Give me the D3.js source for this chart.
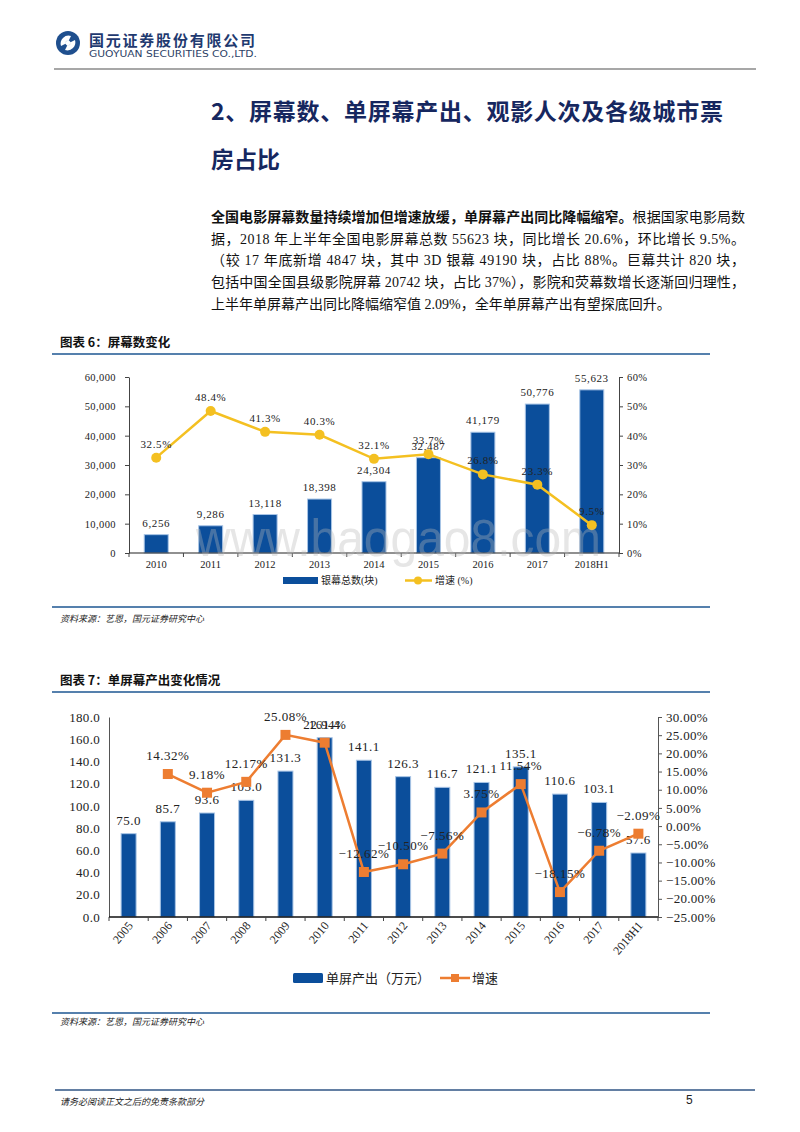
<!DOCTYPE html>
<html>
<head>
<meta charset="utf-8">
<script src="https://cdn.jsdelivr.net/npm/d3@7"></script>
<style>
  body { margin: 0; background: #fff; }
  svg { display: block; }
</style>
</head>
<body>
<div id="page"></div>
<script>
// chart 6 data: screen count
const years1 = ['2010', '2011', '2012', '2013', '2014', '2015', '2016', '2017', '2018H1'];
const screens = [6256, 9286, 13118, 18398, 24304, 32487, 41179, 50776, 55623];
const screenGrowth = [32.5, 48.4, 41.3, 40.3, 32.1, 33.7, 26.8, 23.3, 9.5];
const screenTicks = [0, 10000, 20000, 30000, 40000, 50000, 60000];
const screenPctTicks = [0, 10, 20, 30, 40, 50, 60];

// chart 7 data: output per screen
const years2 = ['2005', '2006', '2007', '2008', '2009', '2010', '2011', '2012', '2013', '2014', '2015', '2016', '2017', '2018H1'];
const output = [75.0, 85.7, 93.6, 105.0, 131.3, 161.4, 141.1, 126.3, 116.7, 121.1, 135.1, 110.6, 103.1, 57.6];
const outputGrowth = [null, 14.32, 9.18, 12.17, 25.08, 22.94, -12.62, -10.50, -7.56, 3.75, 11.54, -18.15, -6.78, -2.09];
const outputTicks = [0, 20, 40, 60, 80, 100, 120, 140, 160, 180];
const outputPctTicks = [-25, -20, -15, -10, -5, 0, 5, 10, 15, 20, 25, 30];

const paragraph = [
  [['全国电影屏幕数量持续增加但增速放缓，单屏幕产出同比降幅缩窄。', true], ['根据国家电影局数', false]],
  [['据，2018 年上半年全国电影屏幕总数 55623 块，同比增长 20.6%，环比增长 9.5%。', false]],
  [['（较 17 年底新增 4847 块，其中 3D 银幕 49190 块，占比 88%。巨幕共计 820 块，', false]],
  [['包括中国全国县级影院屏幕 20742 块，占比 37%），影院和荧幕数增长逐渐回归理性，', false]],
  [['上半年单屏幕产出同比降幅缩窄值 2.09%，全年单屏幕产出有望探底回升。', false]]
];

const W = 800, H = 1132;
const SERIF = '"Liberation Serif", "Noto Sans CJK SC", serif';
const SANS = '"Noto Sans CJK SC", sans-serif';
const NAVY = '#16275f';
const BLUE = '#0b4e9b';
const RULE = '#5580ad';

const svg = d3.select('#page').append('svg')
    .attr('width', W)
    .attr('height', H);

svg.append('rect').attr('width', W).attr('height', H).attr('fill', '#fff');

// header / logo
const logo = svg.append('g').attr('transform', 'translate(68,43)');
logo.append('circle').attr('r', 12).attr('fill', '#1f4f8e');
logo.append('path')
    .attr('d', 'M-7,3 A8,8 0 0,1 3,-7 L1,-3 A4.5,4.5 0 0,0 -3,1 Z M7,-3 A8,8 0 0,1 -3,7 L-1,3 A4.5,4.5 0 0,0 3,-1 Z')
    .attr('fill', '#fff');
logo.append('path').attr('d', 'M0,-3.5 L3.5,0 L0,3.5 L-3.5,0 Z').attr('fill', '#fff');

svg.append('text')
    .attr('x', 89).attr('y', 46)
    .attr('textLength', 166).attr('lengthAdjust', 'spacing')
    .attr('font-family', SANS).attr('font-weight', 'bold').attr('font-size', 15)
    .attr('fill', '#1f3a70')
    .text('国元证券股份有限公司');
svg.append('text')
    .attr('x', 89).attr('y', 57)
    .attr('textLength', 168).attr('lengthAdjust', 'spacingAndGlyphs')
    .attr('font-family', '"DejaVu Sans", sans-serif').attr('font-size', 9.5)
    .attr('fill', '#2d3f66')
    .text('GUOYUAN SECURITIES CO.,LTD.');
svg.append('line')
    .attr('x1', 54).attr('x2', 756).attr('y1', 69).attr('y2', 69)
    .attr('stroke', '#8a8a8a').attr('stroke-width', 1.5);

// section title
svg.append('text')
    .attr('x', 211).attr('y', 120)
    .attr('textLength', 512).attr('lengthAdjust', 'spacing')
    .attr('font-family', SANS).attr('font-weight', 'bold').attr('font-size', 23)
    .attr('fill', NAVY)
    .text('2、屏幕数、单屏幕产出、观影人次及各级城市票');
svg.append('text')
    .attr('x', 211).attr('y', 168)
    .attr('font-family', SANS).attr('font-weight', 'bold').attr('font-size', 23)
    .attr('fill', NAVY)
    .text('房占比');

// paragraph
paragraph.forEach((parts, i) => {
  const t = svg.append('text')
      .attr('x', 211).attr('y', 222 + i * 21.7)
      .attr('font-family', SERIF).attr('font-size', 14)
      .attr('fill', '#111');
  if (i < paragraph.length - 1) {
    t.attr('textLength', 534).attr('lengthAdjust', 'spacing');
  }
  parts.forEach(([s, bold]) => {
    t.append('tspan')
        .attr('font-weight', bold ? 'bold' : 'normal')
        .attr('font-family', bold ? SANS : SERIF)
        .text(s);
  });
});

function caption(y, label) {
  svg.append('text')
      .attr('x', 60).attr('y', y)
      .attr('font-family', SANS).attr('font-weight', 'bold').attr('font-size', 12.5)
      .attr('fill', '#111')
      .text(label);
}
function rule(y) {
  svg.append('line')
      .attr('x1', 52).attr('x2', 710).attr('y1', y).attr('y2', y)
      .attr('stroke', RULE).attr('stroke-width', 2);
}
function source(y) {
  svg.append('text')
      .attr('x', 60).attr('y', y)
      .attr('font-family', SERIF).attr('font-style', 'italic').attr('font-size', 9)
      .attr('fill', '#222')
      .text('资料来源：艺恩，国元证券研究中心');
}

// ---------------- Chart 6 ----------------
caption(347, '图表 6：屏幕数变化');
rule(354);

const x1 = d3.scaleBand().domain(years1).range([129, 619]);
const y1 = d3.scaleLinear().domain([0, 60000]).range([553, 377]);
const y1r = d3.scaleLinear().domain([0, 60]).range([553, 377]);
const c1 = svg.append('g');

const ax1L = c1.append('g')
    .attr('transform', 'translate(129,0)')
    .call(d3.axisLeft(y1).tickValues(screenTicks).tickSize(4).tickSizeOuter(0).tickFormat(d3.format(',')));
const ax1R = c1.append('g')
    .attr('transform', 'translate(619,0)')
    .call(d3.axisRight(y1r).tickValues(screenPctTicks).tickSize(4).tickSizeOuter(0).tickFormat(d => d + '%'));
[ax1L, ax1R].forEach(a => {
  a.selectAll('text').attr('font-family', SERIF).attr('font-size', 10.5).attr('fill', '#222').attr('letter-spacing', 0.4);
  a.selectAll('line, path').attr('stroke', '#444');
});
ax1L.selectAll('text').attr('x', -13);
ax1R.selectAll('text').attr('x', 8);

// bars
const bw1 = 24;
c1.selectAll('rect.bar').data(screens).join('rect')
    .attr('class', 'bar')
    .attr('x', (d, i) => x1(years1[i]) + x1.bandwidth() / 2 - bw1 / 2)
    .attr('y', d => y1(d))
    .attr('width', bw1)
    .attr('height', d => y1(0) - y1(d))
    .attr('fill', BLUE)
    .attr('stroke', '#a9c5e6').attr('stroke-width', 1);

// x axis
c1.append('line').attr('x1', 129).attr('x2', 619).attr('y1', 553).attr('y2', 553)
    .attr('stroke', '#222').attr('stroke-width', 1.2);
c1.selectAll('line.xt').data(years1.concat(['end'])).join('line')
    .attr('class', 'xt')
    .attr('x1', (d, i) => 129 + i * x1.step()).attr('x2', (d, i) => 129 + i * x1.step())
    .attr('y1', 553).attr('y2', 557)
    .attr('stroke', '#444');
c1.selectAll('text.xl').data(years1).join('text')
    .attr('class', 'xl')
    .attr('x', d => x1(d) + x1.bandwidth() / 2)
    .attr('y', 568)
    .attr('text-anchor', 'middle')
    .attr('font-family', SERIF).attr('font-size', 10.5).attr('fill', '#222')
    .text(d => d);

// bar labels
c1.selectAll('text.bl').data(screens).join('text')
    .attr('class', 'bl')
    .attr('x', (d, i) => x1(years1[i]) + x1.bandwidth() / 2)
    .attr('y', d => y1(d) - 8)
    .attr('text-anchor', 'middle')
    .attr('font-family', SERIF).attr('font-size', 11).attr('fill', '#222').attr('letter-spacing', 0.6)
    .text(d => d3.format(',')(d));

// growth line
const line1 = d3.line()
    .x((d, i) => x1(years1[i]) + x1.bandwidth() / 2)
    .y(d => y1r(d));
c1.append('path').datum(screenGrowth)
    .attr('d', line1)
    .attr('fill', 'none').attr('stroke', '#f4c021').attr('stroke-width', 2.5);
c1.selectAll('circle.pt').data(screenGrowth).join('circle')
    .attr('class', 'pt')
    .attr('cx', (d, i) => x1(years1[i]) + x1.bandwidth() / 2)
    .attr('cy', d => y1r(d))
    .attr('r', 5)
    .attr('fill', '#f4c021');
c1.selectAll('text.gl').data(screenGrowth).join('text')
    .attr('class', 'gl')
    .attr('x', (d, i) => x1(years1[i]) + x1.bandwidth() / 2)
    .attr('y', d => y1r(d) - 10)
    .attr('text-anchor', 'middle')
    .attr('font-family', SERIF).attr('font-size', 11).attr('fill', '#222').attr('letter-spacing', 0.6)
    .text(d => d.toFixed(1) + '%');

// legend
c1.append('rect').attr('x', 283).attr('y', 577).attr('width', 35).attr('height', 7).attr('fill', BLUE);
c1.append('text').attr('x', 321).attr('y', 584)
    .attr('font-family', SERIF).attr('font-size', 10).attr('fill', '#222')
    .text('银幕总数(块)');
c1.append('line').attr('x1', 405).attr('x2', 432).attr('y1', 580.5).attr('y2', 580.5)
    .attr('stroke', '#f4c021').attr('stroke-width', 2.5);
c1.append('circle').attr('cx', 418).attr('cy', 580.5).attr('r', 4).attr('fill', '#f4c021');
c1.append('text').attr('x', 435).attr('y', 584)
    .attr('font-family', SERIF).attr('font-size', 10).attr('fill', '#222')
    .text('增速 (%)');

// watermark
svg.append('text')
    .attr('x', 196).attr('y', 556)
    .attr('textLength', 405).attr('lengthAdjust', 'spacingAndGlyphs')
    .attr('font-family', '"Liberation Sans", sans-serif').attr('font-size', 52)
    .attr('fill', '#b8b8b8').attr('opacity', 0.35)
    .text('www.baogao8.com');

rule(607);
source(622);

// ---------------- Chart 7 ----------------
caption(685, '图表 7：单屏幕产出变化情况');
rule(692);

const x2 = d3.scaleBand().domain(years2).range([109, 658]);
const y2 = d3.scaleLinear().domain([0, 180]).range([917, 717]);
const y2r = d3.scaleLinear().domain([-25, 30]).range([917, 717]);
const c2 = svg.append('g');
const fmtPct = d => (d < 0 ? '\u2212' : '') + Math.abs(d).toFixed(2) + '%';

const ax2L = c2.append('g')
    .attr('transform', 'translate(109,0)')
    .call(d3.axisLeft(y2).tickValues(outputTicks).tickSize(0).tickSizeOuter(0).tickFormat(d => d.toFixed(1)));
const ax2R = c2.append('g')
    .attr('transform', 'translate(658,0)')
    .call(d3.axisRight(y2r).tickValues(outputPctTicks).tickSize(4).tickSizeOuter(0).tickFormat(fmtPct));
[ax2L, ax2R].forEach(a => {
  a.selectAll('text').attr('font-family', SERIF).attr('font-size', 13).attr('fill', '#222').attr('letter-spacing', 0.3);
  a.selectAll('line, path').attr('stroke', '#555');
});
ax2L.selectAll('text').attr('x', -9);
ax2R.selectAll('text').attr('x', 8);

const bw2 = 15;
c2.selectAll('rect.bar').data(output).join('rect')
    .attr('class', 'bar')
    .attr('x', (d, i) => x2(years2[i]) + x2.bandwidth() / 2 - bw2 / 2)
    .attr('y', d => y2(d))
    .attr('width', bw2)
    .attr('height', d => y2(0) - y2(d))
    .attr('fill', BLUE)
    .attr('stroke', '#a9c5e6').attr('stroke-width', 1);

c2.append('line').attr('x1', 109).attr('x2', 658).attr('y1', 917).attr('y2', 917)
    .attr('stroke', '#111').attr('stroke-width', 1.5);
c2.selectAll('line.xt').data(years2.concat(['end'])).join('line')
    .attr('class', 'xt')
    .attr('x1', (d, i) => 109 + i * x2.step()).attr('x2', (d, i) => 109 + i * x2.step())
    .attr('y1', 917).attr('y2', 921)
    .attr('stroke', '#444');
c2.selectAll('text.xl').data(years2).join('text')
    .attr('class', 'xl')
    .attr('transform', d => `translate(${x2(d) + x2.bandwidth() / 2 + 5},926) rotate(-50)`)
    .attr('text-anchor', 'end')
    .attr('font-family', SERIF).attr('font-size', 12).attr('fill', '#222')
    .text(d => d);

c2.selectAll('text.bl').data(output).join('text')
    .attr('class', 'bl')
    .attr('x', (d, i) => x2(years2[i]) + x2.bandwidth() / 2)
    .attr('y', d => y2(d) - 9)
    .attr('text-anchor', 'middle')
    .attr('font-family', SERIF).attr('font-size', 13).attr('fill', '#222').attr('letter-spacing', 0.5)
    .text(d => d.toFixed(1));

const ORANGE = '#ed7d31';
const pts2 = outputGrowth.map((v, i) => ({ k: years2[i], v })).filter(d => d.v !== null);
const line2 = d3.line()
    .x(d => x2(d.k) + x2.bandwidth() / 2)
    .y(d => y2r(d.v));
c2.append('path').datum(pts2)
    .attr('d', line2)
    .attr('fill', 'none').attr('stroke', ORANGE).attr('stroke-width', 2.5);
c2.selectAll('rect.pt').data(pts2).join('rect')
    .attr('class', 'pt')
    .attr('x', d => x2(d.k) + x2.bandwidth() / 2 - 5)
    .attr('y', d => y2r(d.v) - 5)
    .attr('width', 10).attr('height', 10)
    .attr('fill', ORANGE);
c2.selectAll('text.gl').data(pts2).join('text')
    .attr('class', 'gl')
    .attr('x', d => x2(d.k) + x2.bandwidth() / 2)
    .attr('y', d => y2r(d.v) - 14)
    .attr('text-anchor', 'middle')
    .attr('font-family', SERIF).attr('font-size', 13).attr('fill', '#222').attr('letter-spacing', 0.5)
    .text(d => fmtPct(d.v));

// legend
c2.append('rect').attr('x', 293).attr('y', 973).attr('width', 30).attr('height', 10).attr('rx', 1.5).attr('fill', BLUE);
c2.append('text').attr('x', 326).attr('y', 983)
    .attr('font-family', SANS).attr('font-size', 13).attr('fill', '#222')
    .text('单屏产出（万元）');
c2.append('line').attr('x1', 440).attr('x2', 470).attr('y1', 978).attr('y2', 978)
    .attr('stroke', ORANGE).attr('stroke-width', 2.5);
c2.append('rect').attr('x', 451).attr('y', 974).attr('width', 8).attr('height', 8).attr('fill', ORANGE);
c2.append('text').attr('x', 472).attr('y', 983)
    .attr('font-family', SANS).attr('font-size', 13).attr('fill', '#222')
    .text('增速');

rule(1013);
source(1025);

// footer
svg.append('line')
    .attr('x1', 55).attr('x2', 755).attr('y1', 1090).attr('y2', 1090)
    .attr('stroke', '#2f5585').attr('stroke-width', 1.5);
svg.append('text')
    .attr('x', 60).attr('y', 1105)
    .attr('font-family', SERIF).attr('font-style', 'italic').attr('font-size', 9)
    .attr('fill', '#222')
    .text('请务必阅读正文之后的免责条款部分');
svg.append('text')
    .attr('x', 686).attr('y', 1104)
    .attr('font-family', '"Liberation Sans", sans-serif').attr('font-size', 12)
    .attr('fill', '#222')
    .text('5');
</script>
</body>
</html>
